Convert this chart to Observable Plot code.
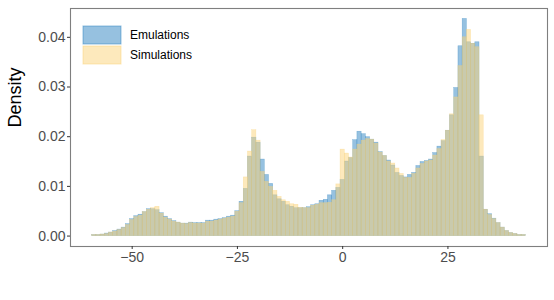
<!DOCTYPE html>
<html>
<head>
<meta charset="utf-8">
<script src="https://cdn.jsdelivr.net/npm/d3@7"></script>
<script src="https://cdn.jsdelivr.net/npm/@observablehq/plot@0.6"></script>
<style>
  html, body { margin: 0; padding: 0; background: #fff; }
  #chart svg { font-family: "Liberation Sans", Arial, sans-serif; }
  #chart svg [aria-label^="x-axis tick label"] text,
  #chart svg [aria-label^="y-axis tick label"] text { fill: #4d4d4d; }
</style>
</head>
<body>
<div id="chart"></div>
<script>
const binCenters = [-59,-58,-57,-56,-55,-54,-53,-52,-51,-50,-49,-48,-47,-46,-45,-44,-43,-42,-41,-40,
  -39,-38,-37,-36,-35,-34,-33,-32,-31,-30,-29,-28,-27,-26,-25,-24,-23,-22,-21,-20,
  -19,-18,-17,-16,-15,-14,-13,-12,-11,-10,-9,-8,-7,-6,-5,-4,-3,-2,-1,0,
  1,2,3,4,5,6,7,8,9,10,11,12,13,14,15,16,17,18,19,20,
  21,22,23,24,25,26,27,28,29,30,31,32,33,34,35,36,37,38,39,40,41,42,43];

const emulations = [0.0002,0.0002,0.0003,0.0005,0.0007,0.0010,0.0013,0.0017,0.0024,0.0034,
  0.0040,0.0043,0.0048,0.0054,0.0054,0.0052,0.0046,0.0039,0.0034,0.0030,
  0.0027,0.0025,0.0025,0.0027,0.0026,0.0026,0.0026,0.0031,0.0031,0.0033,
  0.0034,0.0036,0.0039,0.0041,0.0050,0.0069,0.0095,0.0160,0.0198,0.0188,
  0.0154,0.0123,0.0105,0.0082,0.0074,0.0069,0.0062,0.0059,0.0056,0.0056,
  0.0056,0.0058,0.0062,0.0064,0.0071,0.0073,0.0082,0.0091,0.0097,0.0113,
  0.0150,0.0157,0.0193,0.0210,0.0205,0.0199,0.0194,0.0188,0.0169,0.0161,
  0.0152,0.0142,0.0127,0.0121,0.0118,0.0123,0.0127,0.0141,0.0149,0.0151,
  0.0154,0.0167,0.0180,0.0191,0.0212,0.0243,0.0298,0.0382,0.0437,0.0390,
  0.0387,0.0390,0.0160,0.0053,0.0044,0.0035,0.0026,0.0017,0.0010,0.0006,
  0.0004,0.0002,0.0002];

const simulations = [0.0002,0.0002,0.0003,0.0004,0.0007,0.0009,0.0012,0.0016,0.0022,0.0032,
  0.0038,0.0041,0.0048,0.0053,0.0056,0.0059,0.0045,0.0037,0.0033,0.0029,
  0.0027,0.0025,0.0024,0.0026,0.0025,0.0025,0.0025,0.0029,0.0029,0.0031,
  0.0033,0.0035,0.0037,0.0039,0.0049,0.0066,0.0118,0.0170,0.0213,0.0192,
  0.0129,0.0109,0.0099,0.0091,0.0079,0.0072,0.0069,0.0064,0.0063,0.0057,
  0.0056,0.0056,0.0061,0.0063,0.0066,0.0066,0.0067,0.0072,0.0104,0.0174,
  0.0166,0.0158,0.0174,0.0184,0.0192,0.0195,0.0194,0.0186,0.0168,0.0161,
  0.0150,0.0146,0.0136,0.0125,0.0117,0.0117,0.0125,0.0136,0.0145,0.0150,
  0.0152,0.0162,0.0175,0.0193,0.0212,0.0245,0.0279,0.0342,0.0400,0.0415,
  0.0387,0.0380,0.0243,0.0053,0.0042,0.0034,0.0026,0.0017,0.0010,0.0006,
  0.0004,0.0002,0.0002];

const seriesNames = ["Emulations", "Simulations"];
const seriesColors = ["#2d83c1", "#fbd379"];

const xTicks = [-50, -25, 0, 25];
const xTickLabels = ["\u221250", "\u221225", "0", "25"];
const yTicks = [0, 0.01, 0.02, 0.03, 0.04];
const yTickLabels = ["0.00", "0.01", "0.02", "0.03", "0.04"];
const yTitle = "Density";

const binWidth = 1;
const rows = [];
seriesNames.forEach((name, s) => {
  const vals = s === 0 ? emulations : simulations;
  binCenters.forEach((c, i) => {
    rows.push({series: name, x1: c - binWidth / 2, x2: c + binWidth / 2, y: vals[i]});
  });
});

const barMark = (name, color) => Plot.rectY(rows.filter(d => d.series === name), {
  x1: "x1", x2: "x2", y: "y",
  fill: color, fillOpacity: 0.5,
  stroke: color, strokeOpacity: 0.5, strokeWidth: 0.5
});

const chart = Plot.plot({
  width: 554,
  height: 300,
  marginLeft: 70,
  marginRight: 7,
  marginTop: 8,
  marginBottom: 54,
  style: {fontFamily: "Liberation Sans, Arial, sans-serif", background: "#fff"},
  x: {domain: [-64.65, 48.65]},
  y: {domain: [-0.0021, 0.0458]},
  marks: [
    barMark(seriesNames[0], seriesColors[0]),
    barMark(seriesNames[1], seriesColors[1]),
    Plot.frame({stroke: "#7f7f7f", strokeWidth: 1.1}),
    Plot.axisX({ticks: xTicks, tickFormat: (d) => xTickLabels[xTicks.indexOf(d)],
      tickSize: 3, tickPadding: 3, fontSize: 14, stroke: "#333", label: null}),
    Plot.axisY({ticks: yTicks, tickFormat: (d) => yTickLabels[yTicks.indexOf(d)],
      tickSize: 3, tickPadding: 2, fontSize: 14, stroke: "#333", label: null}),
    Plot.text([yTitle], {frameAnchor: "left", rotate: -90, dx: -55, fontSize: 18, fill: "#000", text: d => d})
  ]
});

document.getElementById("chart").appendChild(chart);

// legend inside panel (top-left)
const svg = d3.select(chart);
const lg = svg.append("g")
  .attr("font-family", "Liberation Sans, Arial, sans-serif")
  .attr("text-anchor", "start");
seriesNames.forEach((name, i) => {
  const y0 = 26 + i * 20;
  lg.append("rect").attr("x", 83).attr("y", y0).attr("width", 38).attr("height", 18)
    .attr("fill", seriesColors[i]).attr("fill-opacity", 0.5)
    .attr("stroke", seriesColors[i]).attr("stroke-opacity", 0.5).attr("stroke-width", 1);
  lg.append("text").attr("x", 130).attr("y", y0 + 9).attr("dy", "0.35em")
    .attr("text-anchor", "start")
    .attr("font-size", 12).attr("fill", "#000").text(name);
});
</script>
</body>
</html>
